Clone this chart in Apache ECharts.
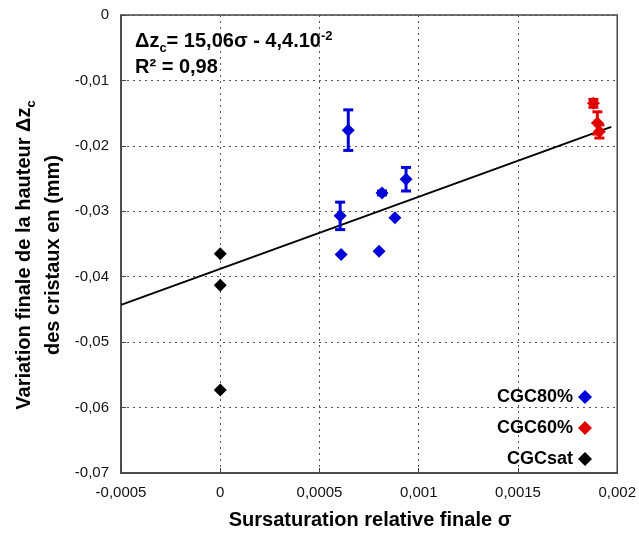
<!DOCTYPE html>
<html><head><meta charset="utf-8">
<script src="https://cdn.jsdelivr.net/npm/echarts@6/dist/echarts.min.js"></script>
<style>html,body{margin:0;padding:0;background:#fff}#c{width:639px;height:538px}</style>
</head><body><div id="c"></div>
<script>
// [sigma, deltaZc, errorHalfWidth]
const cgc80 = [[0.000645,-0.0176,0.0031],[0.000604,-0.0307,0.0021],[0.000609,-0.0366,0],[0.0008,-0.0361,0],[0.000815,-0.0272,0.0003],[0.00088,-0.031,0],[0.000936,-0.0251,0.0018]];
const cgc60 = [[0.00188,-0.0135,0.0006],[0.0019,-0.0165,0.0017],[0.00191,-0.0178,0.001]];
const cgcSat = [[0,-0.0365,0],[0,-0.0413,0],[0,-0.0573,0]];
const fitLine = [[-0.0005,-0.0443],[0.00197,-0.0171]];
const seriesNames = ['CGC80%','CGC60%','CGCsat'];
const seriesColors = ['#0000d8','#e00000','#000000'];
const xTicks = {min:-0.0005,max:0.002,interval:0.0005};
const yTicks = {min:-0.07,max:0,interval:0.01};

const fmt = v => {
  if (Math.abs(v) < 1e-12) return '0';
  return String(parseFloat(v.toPrecision(6))).replace('.', ',');
};

function errSeries(data, color){
  return {
    type:'custom', silent:true, z:3,
    data: data.filter(d=>d[2]>0).map(d=>[d[0], d[1]-d[2], d[1]+d[2]]),
    encode:{x:0,y:[1,2]},
    renderItem:function(params, api){
      const lo = api.coord([api.value(0), api.value(1)]);
      const hi = api.coord([api.value(0), api.value(2)]);
      const w = 5;
      const st = {stroke:color, lineWidth:3};
      return {type:'group', children:[
        {type:'line', shape:{x1:lo[0],y1:lo[1],x2:hi[0],y2:hi[1]}, style:st},
        {type:'line', shape:{x1:lo[0]-w,y1:lo[1],x2:lo[0]+w,y2:lo[1]}, style:st},
        {type:'line', shape:{x1:hi[0]-w,y1:hi[1],x2:hi[0]+w,y2:hi[1]}, style:st}
      ]};
    }
  };
}

const chart = echarts.init(document.getElementById('c'));
const gridLine = {show:true, lineStyle:{color:'#555', type:[2,4], width:1}};
chart.setOption({
  animation:false,
  textStyle:{fontFamily:'Liberation Sans, Arial, sans-serif'},
  grid:{left:121, top:15, right:20, bottom:65, show:true, borderColor:'#444', borderWidth:1.5},
  xAxis:{type:'value', min:xTicks.min, max:xTicks.max, interval:xTicks.interval,
    axisLine:{show:true, onZero:false, lineStyle:{color:'#444', width:1.5}},
    axisTick:{show:true, inside:true, length:5, lineStyle:{color:'#444'}},
    axisLabel:{formatter:fmt, fontSize:15, color:'#111', margin:12},
    splitLine:gridLine},
  yAxis:{type:'value', min:yTicks.min, max:yTicks.max, interval:yTicks.interval,
    axisLine:{show:true, onZero:false, lineStyle:{color:'#444', width:1.5}},
    axisTick:{show:true, inside:true, length:5, lineStyle:{color:'#444'}},
    axisLabel:{formatter:fmt, fontSize:15, color:'#111', margin:12},
    splitLine:gridLine},
  legend:{orient:'vertical', align:'right', right:42, top:383, itemGap:13,
    itemWidth:14, itemHeight:14, icon:'diamond', data:seriesNames,
    textStyle:{fontSize:18, fontWeight:'bold', color:'#000', fontFamily:'Liberation Sans, Arial, sans-serif'}},
  graphic:[
    {type:'text', left:135, top:30, style:{
      rich:{
        b:{fontSize:20, fontWeight:'bold', fill:'#000', fontFamily:'Liberation Sans, Arial'},
        sub:{fontSize:13, fontWeight:'bold', fill:'#000', padding:[14,0,0,0], fontFamily:'Liberation Sans, Arial'},
        sup:{fontSize:13, fontWeight:'bold', fill:'#000', padding:[0,0,10,0], fontFamily:'Liberation Sans, Arial'}
      },
      text:'{b|Δz}{sub|c}{b|= 15,06σ - 4,4.10}{sup|-2}'}},
    {type:'text', left:135, top:57, style:{text:'R² = 0,98', fontSize:20, fontWeight:'bold', fill:'#000', fontFamily:'Liberation Sans, Arial'}},
    {type:'text', x:39, y:255, rotation:Math.PI/2, style:{
      rich:{
        b:{fontSize:20, fontWeight:'bold', fill:'#000', fontFamily:'Liberation Sans, Arial'},
        sub:{fontSize:13, fontWeight:'bold', fill:'#000', padding:[14,0,0,0], fontFamily:'Liberation Sans, Arial'}
      },
      text:'{b|Variation finale de la hauteur Δz}{sub|c}\n{b|des cristaux en (mm)}',
      align:'center', verticalAlign:'middle', lineHeight:29}},
    {type:'text', x:370, y:520, style:{text:'Sursaturation relative finale σ', fontSize:20, fontWeight:'bold', fill:'#000', fontFamily:'Liberation Sans, Arial', align:'center', verticalAlign:'middle'}}
  ],
  series:[
    {type:'line', data:fitLine, symbol:'none', silent:true, lineStyle:{color:'#000', width:2}, z:2},
    errSeries(cgc80, seriesColors[0]),
    errSeries(cgc60, seriesColors[1]),
    errSeries(cgcSat, seriesColors[2]),
    {name:seriesNames[0], type:'scatter', data:cgc80.map(d=>[d[0],d[1]]), symbol:'diamond', symbolSize:13, itemStyle:{color:seriesColors[0], opacity:1}, z:4},
    {name:seriesNames[1], type:'scatter', data:cgc60.map(d=>[d[0],d[1]]), symbol:'diamond', symbolSize:13, itemStyle:{color:seriesColors[1], opacity:1}, z:4},
    {name:seriesNames[2], type:'scatter', data:cgcSat.map(d=>[d[0],d[1]]), symbol:'diamond', symbolSize:13, itemStyle:{color:seriesColors[2], opacity:1}, z:4}
  ]
});
</script></body></html>
